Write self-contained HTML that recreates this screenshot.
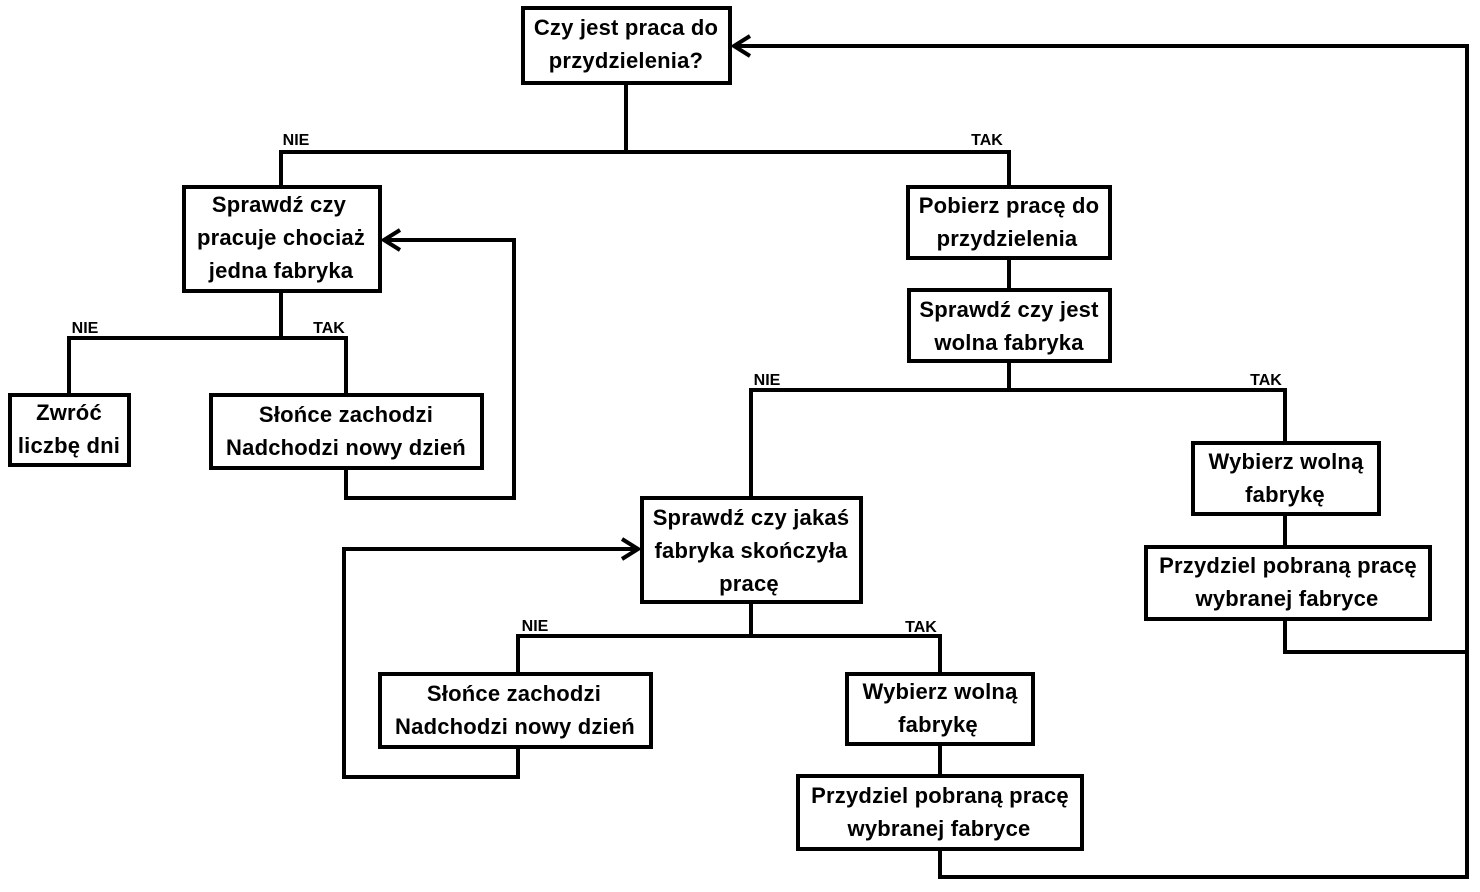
<!DOCTYPE html>
<html><head><meta charset="utf-8"><style>
html,body{margin:0;padding:0;background:#fff;}
svg{display:block;}
text{font-family:"Liberation Sans",sans-serif;font-weight:bold;fill:#000;}
.t{font-size:22px;text-anchor:middle;letter-spacing:0.2px;}
.l{font-size:16px;text-anchor:middle;}
</style></head><body>
<svg width="1480" height="892" viewBox="0 0 1480 892" xmlns="http://www.w3.org/2000/svg">
<g fill="none" stroke="#000" stroke-width="4">
<rect x="523" y="8" width="207" height="75"/>
<rect x="184" y="187" width="196" height="104"/>
<rect x="10" y="395" width="119" height="70"/>
<rect x="211" y="395" width="271" height="73"/>
<rect x="908" y="187" width="202" height="71"/>
<rect x="909" y="290" width="201" height="71"/>
<rect x="1193" y="443" width="186" height="71"/>
<rect x="1146" y="547" width="284" height="72"/>
<rect x="642" y="498" width="219" height="104"/>
<rect x="380" y="674" width="271" height="73"/>
<rect x="847" y="674" width="186" height="70"/>
<rect x="798" y="776" width="284" height="73"/>
<polyline points="626,84 626,152"/>
<polyline points="281,185 281,152 1009,152 1009,185"/>
<polyline points="281,292 281,338"/>
<polyline points="69,393 69,338 346,338 346,393"/>
<polyline points="346,469 346,498 514,498 514,240 384,240"/>
<polyline points="400,230 384,240 400,250"/>
<polyline points="1009,259 1009,288"/>
<polyline points="1009,362 1009,390"/>
<polyline points="751,496 751,390 1285,390 1285,441"/>
<polyline points="1285,515 1285,545"/>
<polyline points="1285,620 1285,652 1467,652"/>
<polyline points="940,850 940,877 1467,877 1467,46 734,46"/>
<polyline points="750,36 734,46 750,56"/>
<polyline points="751,603 751,636"/>
<polyline points="518,672 518,636 940,636 940,672"/>
<polyline points="518,748 518,777 344,777 344,549 638,549"/>
<polyline points="622,539 638,549 622,559"/>
<polyline points="940,745 940,774"/>
</g>
<text class="t" x="626" y="35">Czy jest praca do</text>
<text class="t" x="626" y="68">przydzielenia?</text>
<text class="t" x="279" y="212">Sprawdź czy</text>
<text class="t" x="281" y="245">pracuje chociaż</text>
<text class="t" x="281" y="278">jedna fabryka</text>
<text class="t" x="69" y="420">Zwróć</text>
<text class="t" x="69" y="453">liczbę dni</text>
<text class="t" x="346" y="422">Słońce zachodzi</text>
<text class="t" x="346" y="455">Nadchodzi nowy dzień</text>
<text class="t" x="1009" y="213">Pobierz pracę do</text>
<text class="t" x="1007" y="246">przydzielenia</text>
<text class="t" x="1009" y="317">Sprawdź czy jest</text>
<text class="t" x="1009" y="350">wolna fabryka</text>
<text class="t" x="1286" y="469">Wybierz wolną</text>
<text class="t" x="1285" y="502">fabrykę</text>
<text class="t" x="1288" y="573">Przydziel pobraną pracę</text>
<text class="t" x="1287" y="606">wybranej fabryce</text>
<text class="t" x="751" y="525">Sprawdź czy jakaś</text>
<text class="t" x="751" y="558">fabryka skończyła</text>
<text class="t" x="749" y="591">pracę</text>
<text class="t" x="514" y="701">Słońce zachodzi</text>
<text class="t" x="515" y="734">Nadchodzi nowy dzień</text>
<text class="t" x="940" y="699">Wybierz wolną</text>
<text class="t" x="938" y="732">fabrykę</text>
<text class="t" x="940" y="803">Przydziel pobraną pracę</text>
<text class="t" x="939" y="836">wybranej fabryce</text>
<text class="l" x="296" y="145">NIE</text>
<text class="l" x="987" y="145">TAK</text>
<text class="l" x="85" y="333">NIE</text>
<text class="l" x="329" y="333">TAK</text>
<text class="l" x="767" y="385">NIE</text>
<text class="l" x="1266" y="385">TAK</text>
<text class="l" x="535" y="631">NIE</text>
<text class="l" x="921" y="632">TAK</text>
</svg>
</body></html>
